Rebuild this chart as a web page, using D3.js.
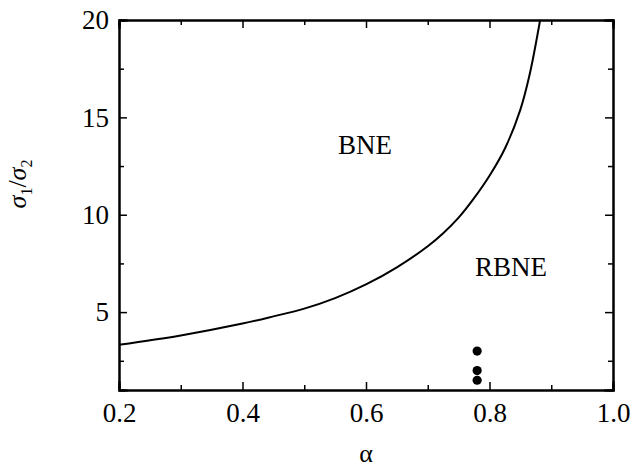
<!DOCTYPE html>
<meta charset="utf-8">
<title>sigma ratio vs alpha</title>
<style>
  body { margin: 0; background: #fff; }
</style>
<body>
<script src="https://d3js.org/d3.v7.min.js"></script>
<script>

var width = 633,
    height = 470,
    serif = '"Liberation Serif", "Times New Roman", serif';

// boundary curve sigma1/sigma2 vs alpha
var alphas = [0.20, 0.30, 0.40, 0.45, 0.50, 0.55, 0.60, 0.65, 0.70, 0.725, 0.75, 0.775, 0.80, 0.825, 0.85, 0.865, 0.882];
var ratios = [3.32, 3.80, 4.41, 4.78, 5.18, 5.72, 6.42, 7.30, 8.38, 9.05, 9.85, 10.85, 12.0, 13.4, 15.4, 17.2, 20.0];

// the three filled dots
var dotAlpha = [0.78, 0.78, 0.78];
var dotRatio = [3.0, 2.0, 1.5];

var xTicks = [0.2, 0.4, 0.6, 0.8, 1.0],
    xMinor = [0.3, 0.5, 0.7, 0.9],
    yTicks = [5, 10, 15, 20],
    yMinor = [2.5, 7.5, 12.5, 17.5];

var margin = {top: 20, right: 20, bottom: 80, left: 119};

var x = d3.scaleLinear()
    .domain([0.2, 1.0])
    .range([margin.left, width - margin.right]);

var y = d3.scaleLinear()
    .domain([1, 20])
    .range([height - margin.bottom, margin.top]);

var svg = d3.select("body").append("svg")
    .attr("width", width)
    .attr("height", height)
    .style("font-family", serif);

// curve + dots first, axes on top
var line = d3.line()
    .x(function(d) { return x(d[0]); })
    .y(function(d) { return y(d[1]); })
    .curve(d3.curveCatmullRom.alpha(0.5));

svg.append("path")
    .datum(d3.zip(alphas, ratios))
    .attr("d", line)
    .attr("fill", "none")
    .attr("stroke", "#000")
    .attr("stroke-width", 2);

svg.selectAll("circle")
    .data(d3.zip(dotAlpha, dotRatio))
  .enter().append("circle")
    .attr("cx", function(d) { return x(d[0]); })
    .attr("cy", function(d) { return y(d[1]); })
    .attr("r", 4.6)
    .attr("fill", "#000");

// frame with inward ticks on all four sides
function axis(gen, ticks, size, fmt) {
  return gen.tickValues(ticks).tickSize(size).tickPadding(6).tickFormat(fmt);
}
var none = function() { return ""; };

var gx = svg.append("g")
    .attr("transform", "translate(0," + y.range()[0] + ")")
    .call(axis(d3.axisBottom(x), xTicks, -8, d3.format(".1f")));
svg.append("g")
    .attr("transform", "translate(0," + y.range()[0] + ")")
    .call(axis(d3.axisBottom(x), xMinor, -5, none));
svg.append("g")
    .attr("transform", "translate(0," + y.range()[1] + ")")
    .call(axis(d3.axisTop(x), xTicks, -8, none));
svg.append("g")
    .attr("transform", "translate(0," + y.range()[1] + ")")
    .call(axis(d3.axisTop(x), xMinor, -5, none));

var gy = svg.append("g")
    .attr("transform", "translate(" + x.range()[0] + ",0)")
    .call(axis(d3.axisLeft(y), yTicks, -8, d3.format("d")));
svg.append("g")
    .attr("transform", "translate(" + x.range()[0] + ",0)")
    .call(axis(d3.axisLeft(y), yMinor, -5, none));
svg.append("g")
    .attr("transform", "translate(" + x.range()[1] + ",0)")
    .call(axis(d3.axisRight(y), yTicks, -8, none));
svg.append("g")
    .attr("transform", "translate(" + x.range()[1] + ",0)")
    .call(axis(d3.axisRight(y), yMinor, -5, none));

svg.selectAll("g").attr("font-family", null);
svg.selectAll(".domain").attr("stroke-width", 2).attr("stroke-linecap", "square");
svg.selectAll(".tick line").attr("stroke-width", 1.5);
svg.selectAll(".tick text")
    .style("font-family", serif)
    .style("font-size", "27px")
    .attr("fill", "#000");
gx.selectAll(".tick text").attr("dy", "0.95em");
gy.selectAll(".tick text").attr("x", -10);

// region labels
svg.append("text")
    .attr("x", 365).attr("y", 154)
    .attr("text-anchor", "middle")
    .style("font-size", "27px")
    .text("BNE");

svg.append("text")
    .attr("x", 511).attr("y", 276)
    .attr("text-anchor", "middle")
    .style("font-size", "27px")
    .text("RBNE");

// axis titles
svg.append("text")
    .attr("x", (x.range()[0] + x.range()[1]) / 2)
    .attr("y", 462)
    .attr("text-anchor", "middle")
    .style("font-size", "26px")
    .text("α");

var yl = svg.append("text")
    .attr("transform", "translate(26,184) rotate(-90)")
    .attr("text-anchor", "middle")
    .style("font-size", "26px");
yl.append("tspan").style("font-style", "italic").text("σ");
yl.append("tspan").attr("dy", 6).style("font-size", "16px").text("1");
yl.append("tspan").attr("dy", -6).text("/");
yl.append("tspan").style("font-style", "italic").text("σ");
yl.append("tspan").attr("dy", 6).style("font-size", "16px").text("2");

</script>
</body>
